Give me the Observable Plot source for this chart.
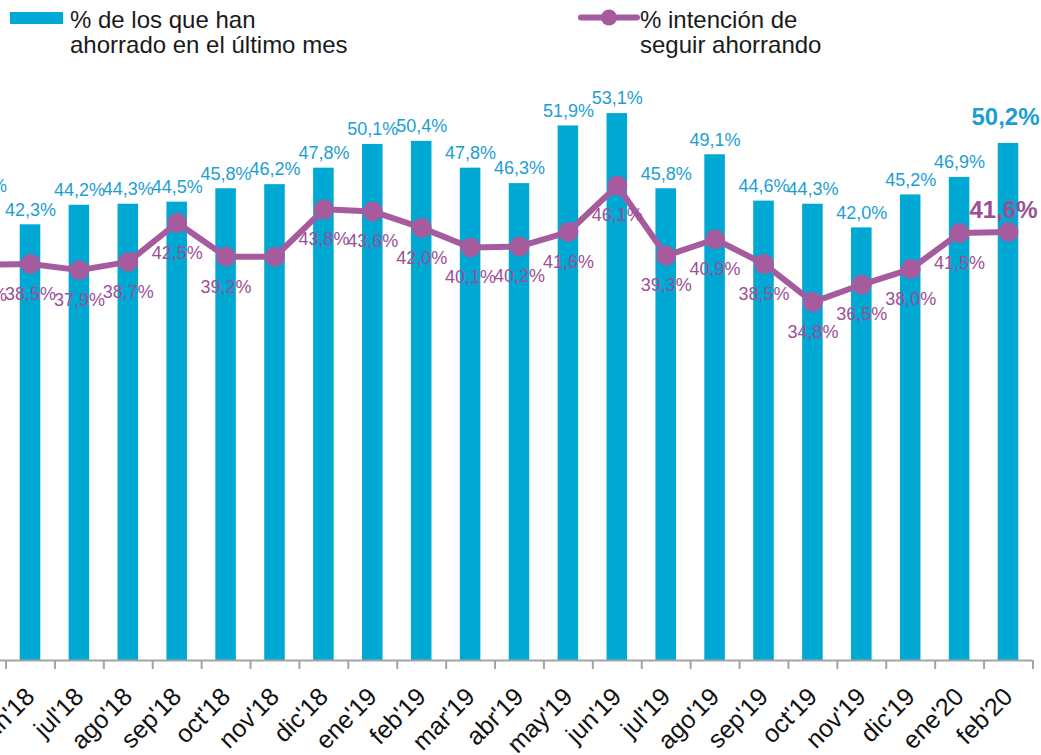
<!DOCTYPE html>
<html>
<head>
<meta charset="utf-8">
<script src="https://cdn.jsdelivr.net/npm/d3@7"></script>
<script src="https://cdn.jsdelivr.net/npm/@observablehq/plot@0.6"></script>
<style>
  html, body { margin: 0; padding: 0; background: #fff; overflow: hidden; }
  body { width: 1041px; height: 755px; font-family: "Liberation Sans", Arial, Helvetica, sans-serif; }
  #legend { position: relative; width: 1041px; height: 60px; }
  .lg-text { position: absolute; font-size: 24px; line-height: 25px; color: #1a1a1a; white-space: nowrap; }
  svg.lg-sym { position: absolute; overflow: visible; }
  #chart svg { display: block; overflow: hidden; }
</style>
</head>
<body>
<div id="legend"></div>
<div id="chart"></div>
<script>
// ---- data ----
const months = ["may'18","jun'18","jul'18","ago'18","sep'18","oct'18","nov'18","dic'18",
  "ene'19","feb'19","mar'19","abr'19","may'19","jun'19","jul'19","ago'19","sep'19","oct'19","nov'19","dic'19",
  "ene'20","feb'20"];
const savedPct = [44.6, 42.3, 44.2, 44.3, 44.5, 45.8, 46.2, 47.8, 50.1, 50.4, 47.8, 46.3, 51.9, 53.1, 45.8, 49.1, 44.6, 44.3, 42.0, 45.2, 46.9, 50.2];
const intentPct = [38.4, 38.5, 37.9, 38.7, 42.5, 39.2, 39.2, 43.8, 43.6, 42.0, 40.1, 40.2, 41.6, 46.1, 39.3, 40.9, 38.5, 34.8, 36.5, 38.0, 41.5, 41.6];
const seriesNames = ["% de los que han\nahorrado en el último mes", "% intención de\nseguir ahorrando"];

const BLUE = "#00a8d4", BLUE_TXT = "#1c9ed3", PURPLE = "#a65b9f", PURPLE_TXT = "#9c4f95";

const data = months.map((m, i) => ({month: m, saved: savedPct[i], intent: intentPct[i], i}));
const last = months.length - 1;
const fmt = v => v.toFixed(1).replace(".", ",") + "%";

// ---- legend ----
const legend = document.getElementById("legend");
legend.innerHTML = `
  <svg class="lg-sym" style="left:10px;top:12px" width="53" height="12"><rect width="53" height="12" fill="${BLUE}"/></svg>
  <div class="lg-text" style="left:70px;top:7px">${seriesNames[0].replace("\n", "<br>")}</div>
  <svg class="lg-sym" style="left:578px;top:8px" width="62" height="20">
    <line x1="3" y1="9.5" x2="59" y2="9.5" stroke="${PURPLE}" stroke-width="6" stroke-linecap="round"/>
    <circle cx="31" cy="9.5" r="8" fill="${PURPLE}"/>
  </svg>
  <div class="lg-text" style="left:640px;top:7px">${seriesNames[1].replace("\n", "<br>")}</div>`;

// ---- chart ----
const W = 1041, H = 695;
const step = 48.9;
const x0 = -43.35, x1 = x0 + step * months.length;

const chart = Plot.plot({
  width: W,
  height: H,
  marginLeft: 0,
  marginRight: W - x1,
  marginTop: 0,
  marginBottom: 95,
  style: {fontFamily: "Liberation Sans, Arial, sans-serif", background: "#fff", overflow: "hidden"},
  x: {type: "band", domain: months, range: [x0, x1], paddingInner: 0.58, paddingOuter: 0.29, align: 0.5, round: false, label: null},
  y: {domain: [0, 600 / 10.3], axis: null},
  marks: [
    Plot.barY(data, {x: "month", y: "saved", fill: BLUE}),
    Plot.ruleY([0], {stroke: "#a3a3a3", strokeWidth: 2}),
    Plot.axisX({tickSize: 9, text: null, dx: step / 2, stroke: "#a3a3a3", strokeWidth: 2, tickPadding: 0, label: null}),
    Plot.axisX({tickSize: 0, tickRotate: -45, fontSize: 25, tickPadding: 32, dx: 0, fill: "#111", label: null}),
    Plot.line(data, {x: "month", y: "intent", stroke: PURPLE, strokeWidth: 6, strokeLinejoin: "round"}),
    Plot.dot(data, {x: "month", y: "intent", r: 10, fill: PURPLE, stroke: "none"}),
    Plot.text(data.filter(d => d.i !== last), {x: "month", y: "saved", text: d => fmt(d.saved), dy: -15, fontSize: 18, fill: BLUE_TXT}),
    Plot.text(data.filter(d => d.i === last), {x: "month", y: "saved", text: d => fmt(d.saved), dy: -26, dx: -3, fontSize: 24, fontWeight: "bold", fill: BLUE_TXT}),
    Plot.text(data.filter(d => d.i !== last && !(d.i > 0 && d.intent === intentPct[d.i - 1])),
      {x: "month", y: "intent", text: d => fmt(d.intent), dy: 30, fontSize: 18, fill: PURPLE_TXT}),
    Plot.text(data.filter(d => d.i === last), {x: "month", y: "intent", text: d => fmt(d.intent), dy: -22, dx: -5, fontSize: 24, fontWeight: "bold", fill: PURPLE_TXT})
  ]
});
document.getElementById("chart").appendChild(chart);
</script>
</body>
</html>
